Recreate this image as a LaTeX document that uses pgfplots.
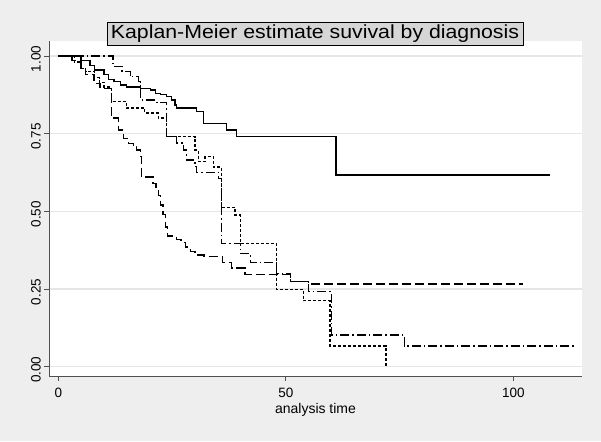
\documentclass[border=0pt]{standalone}
\usepackage{pgfplots}
\pgfplotsset{compat=1.18}
\usepackage{fontspec}
\setmainfont{Liberation Sans}
\newfontfamily\titlefont[FakeStretch=1.12]{Liberation Sans}
\definecolor{bg}{RGB}{238,238,238}
\definecolor{titlegray}{RGB}{214,214,214}
\definecolor{gridgray}{RGB}{230,230,230}
\definecolor{axisgray}{RGB}{80,80,80}
\begin{document}
\begin{tikzpicture}[x=1pt,y=1pt]
\fill[bg] (0,0) rectangle (601,441);
\begin{axis}[
  at={(49.3pt,65pt)}, anchor=south west,
  width=532.4pt, height=335pt, scale only axis,
  xmin=-1.98, xmax=115, ymin=-0.03, ymax=1.048,
  axis background/.style={fill=white},
  axis x line*=bottom, axis y line*=left,
  axis line style={-, draw=axisgray, line width=1pt},
  tick align=outside, major tick length=5pt,
  tick style={axisgray, line width=0.8pt},
  xtick={0,50,100}, ytick={0,0.25,0.5,0.75,1},
  yticklabel style={rotate=90, anchor=south, xshift=-3pt, /pgf/number format/.cd, fixed, fixed zerofill, precision=2},
  /pgf/number format/assume math mode=true,
  ticklabel style={font=\fontsize{13.5}{15}\selectfont},
  xticklabel style={yshift=-4pt},
  ymajorgrids, grid style={gridgray, line width=1.2pt},
  xlabel={analysis time},
  xlabel style={font=\fontsize{14}{16}\selectfont, anchor=base, at={(axis description cs:0.5,0)}, yshift=-37.5pt},
  clip=false,
]
\addplot[const plot, black, line width=1.4pt] coordinates {
(0,1) (5,0.985) (7,0.97) (8,0.955) (10,0.94) (11,0.925) (12.2,0.917) (13.6,0.907) (15,0.9) (18,0.896) (20.2,0.89) (21.3,0.88) (22.4,0.875) (23.8,0.869) (24.9,0.858) (25.6,0.842) (26,0.832) (30.4,0.821) (31.9,0.783) (37,0.762) (39.2,0.74) (61,0.617) (108,0.617)};
\addplot[const plot, black, line width=1.4pt, dash pattern=on 9pt off 4pt] coordinates {
(0,1) (3,0.985) (5,0.96) (6,0.94) (7.8,0.912) (9.2,0.896) (11.7,0.80) (13.2,0.762) (14.3,0.735) (15.4,0.719) (16.5,0.708) (17.2,0.697) (18,0.676) (18.3,0.61) (20.8,0.59) (21.5,0.57) (22,0.55) (22.5,0.52) (23,0.49) (23.5,0.45) (24,0.42) (26,0.41) (27,0.40) (28,0.385) (29,0.37) (30,0.36) (32,0.354) (36.1,0.335) (38.1,0.317) (41,0.297) (51,0.274) (55,0.266) (102,0.266)};
\addplot[const plot, black, line width=1.4pt, dash pattern=on 3pt off 2pt] coordinates {
(0,1) (3.5,0.98) (5,0.96) (6,0.95) (8,0.93) (9,0.915) (10,0.90) (11.7,0.853) (15,0.832) (19,0.816) (22,0.80) (23.8,0.74) (30,0.697) (30.8,0.66) (32.2,0.676) (34.1,0.642) (35.9,0.512) (38.8,0.488) (40,0.397) (48,0.249) (53.9,0.212) (59.7,0.066) (72,0.0) (72,0.0)};
\addplot[const plot, black, line width=1.4pt, dash pattern=on 9pt off 3pt on 1.5pt off 3pt] coordinates {
(0,1) (12,0.966) (14,0.95) (15.8,0.933) (17.6,0.917) (18,0.858) (21.6,0.85) (23.8,0.74) (26,0.72) (27.5,0.697) (28.2,0.665) (30,0.644) (30.4,0.625) (35.2,0.606) (35.9,0.397) (40,0.365) (42.2,0.335) (48,0.30) (51,0.274) (55,0.241) (60,0.102) (76,0.067) (113.2,0.067)};
\end{axis}
\node[draw=black, fill=titlegray, line width=0.8pt, inner xsep=4pt, inner ysep=3pt, font=\titlefont\fontsize{19}{21}\selectfont] at (315,407) {Kaplan-Meier estimate suvival by diagnosis};
\end{tikzpicture}
\end{document}
